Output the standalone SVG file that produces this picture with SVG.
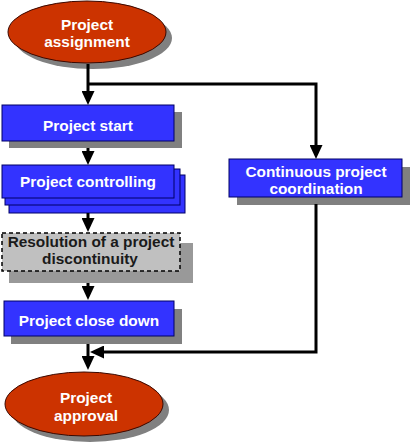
<svg xmlns="http://www.w3.org/2000/svg" width="410" height="444" viewBox="0 0 410 444">
<defs>
<style>
.t{font-family:"Liberation Sans",Arial,sans-serif;font-weight:bold;font-size:15.4px;text-anchor:middle;fill:#ffffff}
.dk{fill:#1a1a1a}
.box{fill:#3333ff;stroke:#000066;stroke-width:1}
.sh{fill:#808080}
.ell{fill:#cc3300;stroke:#3a0800;stroke-width:1}
.con{fill:none;stroke:#000;stroke-width:3}
</style>
<marker id="arr" viewBox="0 0 14 13" refX="5" refY="6.5" markerWidth="14" markerHeight="13" markerUnits="userSpaceOnUse" orient="auto">
<path d="M0,0 L14,6.5 L0,13 z" fill="#000"/>
</marker>
</defs>
<rect width="410" height="444" fill="#ffffff"/>
<g id="n_assign">
<ellipse class="sh" cx="93" cy="38" rx="79" ry="31"/>
<ellipse class="ell" cx="87" cy="32" rx="79" ry="31"/>
<text class="t" x="87" y="30">Project</text>
<text class="t" x="87" y="47">assignment</text>
</g>
<g id="n_start">
<rect class="sh" x="9" y="112" width="173" height="36"/>
<rect class="box" x="2" y="105" width="172" height="36"/>
<text class="t" x="88" y="131">Project start</text>
</g>
<g id="n_ctrl">
<rect class="box" x="9" y="175" width="176" height="38" stroke="#000" stroke-width="1.5"/>
<rect class="box" x="5" y="169" width="175" height="36" stroke="#000" stroke-width="1.5"/>
<rect class="box" x="2" y="165" width="172" height="33"/>
<text class="t" x="88" y="186.5">Project controlling</text>
</g>
<g id="n_resol">
<rect x="9" y="243" width="184" height="40" fill="#999999"/>
<rect x="2" y="233" width="178" height="38" fill="#c0c0c0" stroke="#000" stroke-width="1.5" stroke-dasharray="4,3"/>
<text class="t dk" x="91" y="247">Resolution of a project</text>
<text class="t dk" x="90" y="264">discontinuity</text>
</g>
<g id="n_close">
<rect class="sh" x="11" y="309" width="171" height="35"/>
<rect class="box" x="4" y="301" width="170" height="35"/>
<text class="t" x="89" y="326">Project close down</text>
</g>
<g id="n_coord">
<rect class="sh" x="237" y="167" width="173" height="38"/>
<rect class="box" x="229" y="159" width="173" height="38"/>
<text class="t" x="316" y="177">Continuous project</text>
<text class="t" x="316" y="194">coordination</text>
</g>
<g id="n_approval">
<ellipse class="sh" cx="90" cy="410" rx="79" ry="32"/>
<ellipse class="ell" cx="84" cy="404" rx="79" ry="32"/>
<text class="t" x="86" y="403">Project</text>
<text class="t" x="86" y="421">approval</text>
</g>
<g id="connectors">
<path class="con" d="M88,64 V96" marker-end="url(#arr)"/>
<path class="con" d="M88,84 H316 V150" marker-end="url(#arr)"/>
<path class="con" d="M88,148 V156" marker-end="url(#arr)"/>
<path class="con" d="M88,213 V223" marker-end="url(#arr)"/>
<path class="con" d="M88,283 V291" marker-end="url(#arr)"/>
<path class="con" d="M88,344 V361" marker-end="url(#arr)"/>
<path class="con" d="M316,204 V352 H99" marker-end="url(#arr)"/>
</g>
</svg>
